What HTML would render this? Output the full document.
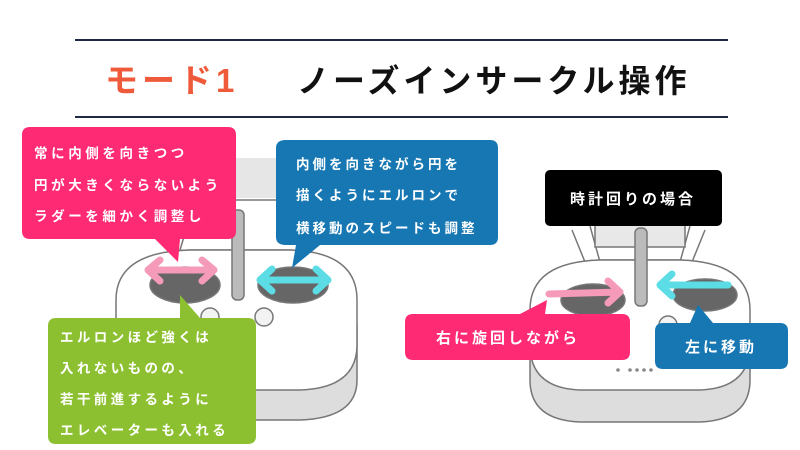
<!DOCTYPE html><html><head><meta charset="utf-8"><style>
html,body{margin:0;padding:0;background:#fff;width:800px;height:450px;overflow:hidden}
svg text{font-family:"Liberation Sans","Noto Sans CJK JP",sans-serif;font-weight:bold}
</style></head><body>
<svg width="800" height="450" viewBox="0 0 800 450" xmlns="http://www.w3.org/2000/svg">
<line x1="75" y1="40" x2="728" y2="40" stroke="#1e2a44" stroke-width="2"/>
<line x1="75" y1="117" x2="728" y2="117" stroke="#1e2a44" stroke-width="2"/>
<text x="105" y="92" font-size="33" fill="#ef5a3b" letter-spacing="4">モード1</text>
<text x="297" y="92" font-size="32" fill="#111" letter-spacing="4">ノーズインサークル操作</text>

<!-- left controller -->
<g stroke="#777" stroke-width="1.5" fill="#eee">
<rect x="176" y="158" width="135" height="40" fill="#e6e6e6" stroke="none"/>
<path d="M180 250 L195 200 L290 200 L300 250" fill="none"/>
<path d="M116 330 Q116 252 190 250 L290 250 Q357 252 357 330 L357 380 Q357 418 300 420 L170 420 Q116 418 116 380 Z" fill="#ddd"/>
<path d="M116 300 Q116 252 190 250 L290 250 Q357 252 357 300 L357 345 Q357 388 300 390 L170 390 Q116 388 116 345 Z" fill="#fff"/>
<ellipse cx="185" cy="285" rx="35" ry="18" fill="#666"/>
<ellipse cx="293" cy="285" rx="35" ry="18" fill="#666"/>
<rect x="232" y="210" width="12" height="90" rx="5" fill="#bbb"/>
<circle cx="264" cy="317" r="9" fill="#f3f3f3"/>
<circle cx="210" cy="317" r="9" fill="#f3f3f3"/>
</g>
<g stroke-linecap="round" stroke-linejoin="round" fill="none" stroke-width="7">
<path d="M148 270 L214 270 M160 260 L148 270 L160 281 M202 260 L214 270 L202 281" stroke="#f59bb9"/>
<path d="M260 280 L328 280 M272 269 L260 280 L272 291 M316 269 L328 280 L316 291" stroke="#5cdce5"/>
</g>

<!-- callouts left -->
<path d="M30 127 H228 Q236 127 236 135 V231 Q236 239 228 239 H180 L178 262 L155 239 H30 Q22 239 22 231 V135 Q22 127 30 127Z" fill="#ff2a74"/>
<g font-size="13.5" fill="#fff" letter-spacing="3.6">
<text x="34" y="158">常に内側を向きつつ</text>
<text x="34" y="190">円が大きくならないよう</text>
<text x="34" y="221">ラダーを細かく調整し</text>
</g>
<path d="M286 140 H490 Q498 140 498 148 V237 Q498 245 490 245 H320 L292 268 L296 245 H286 Q276 245 276 237 V148 Q276 140 286 140Z" fill="#1677b3"/>
<g font-size="13.5" fill="#fff" letter-spacing="3">
<text x="296" y="169">内側を向きながら円を</text>
<text x="296" y="200">描くようにエルロンで</text>
<text x="296" y="233">横移動のスピードも調整</text>
</g>
<path d="M56 318 H180 L180 295 L200 318 H248 Q256 318 256 326 V436 Q256 444 248 444 H56 Q48 444 48 436 V326 Q48 318 56 318Z" fill="#8cc031"/>
<g font-size="13.5" fill="#fff" letter-spacing="3.4">
<text x="60" y="342">エルロンほど強くは</text>
<text x="60" y="373">入れないものの、</text>
<text x="60" y="404">若干前進するように</text>
<text x="60" y="435">エレベーターも入れる</text>
</g>

<!-- right controller -->
<g stroke="#777" stroke-width="1.5" fill="#eee">
<path d="M572 230 L585 262 M705 230 L692 262 M590 226 L600 262 M690 226 L680 262" fill="none"/>
<rect x="595" y="225" width="90" height="22" fill="#e8e8e8"/>
<path d="M530 330 Q530 262 600 260 L680 260 Q750 262 750 330 L750 380 Q750 420 700 422 L580 422 Q530 420 530 380 Z" fill="#ddd"/>
<path d="M530 310 Q530 262 600 260 L680 260 Q750 262 750 310 L750 345 Q750 388 700 390 L580 390 Q530 388 530 345 Z" fill="#fff"/>
<ellipse cx="593" cy="300" rx="32" ry="16" fill="#666"/>
<ellipse cx="705" cy="295" rx="32" ry="16" fill="#666"/>
<rect x="635" y="228" width="12" height="78" rx="5" fill="#bbb"/>
<circle cx="668" cy="325" r="9" fill="#f3f3f3"/>
</g>
<g fill="#888"><circle cx="618" cy="370" r="1.8"/><circle cx="630" cy="370" r="1.8"/><circle cx="637" cy="370" r="1.8"/><circle cx="644" cy="370" r="1.8"/><circle cx="651" cy="370" r="1.8"/></g>
<g stroke-linecap="round" stroke-linejoin="round" fill="none" stroke-width="7">
<path d="M549 294 L620 292 M608 281 L620 292 L608 303" stroke="#f59bb9"/>
<path d="M728 285 L660 285 M672 274 L660 285 L672 296" stroke="#5cdce5"/>
</g>
<rect x="545" y="170" width="177" height="56" rx="5" fill="#000"/>
<text x="633" y="204" font-size="15" fill="#fff" text-anchor="middle" letter-spacing="3">時計回りの場合</text>
<path d="M413 314 H520 L547 300 L545 314 H622 Q630 314 630 322 V352 Q630 360 622 360 H413 Q405 360 405 352 V322 Q405 314 413 314Z" fill="#ff2a74"/>
<text x="508" y="343" font-size="15" fill="#fff" text-anchor="middle" letter-spacing="3">右に旋回しながら</text>
<path d="M663 323 H690 L698 305 L713 323 H780 Q788 323 788 331 V361 Q788 369 780 369 H663 Q655 369 655 361 V331 Q655 323 663 323Z" fill="#1677b3"/>
<text x="721" y="352" font-size="15" fill="#fff" text-anchor="middle" letter-spacing="3">左に移動</text>
</svg>
</body></html>
